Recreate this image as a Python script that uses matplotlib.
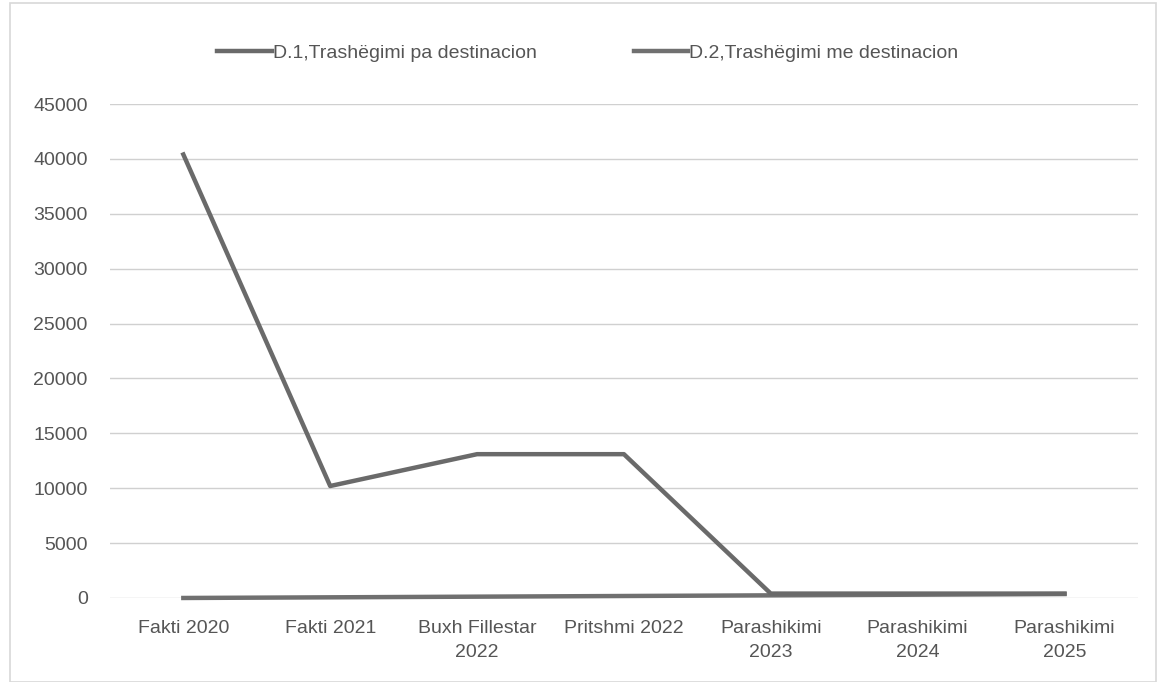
import matplotlib.pyplot as plt
import numpy as np

# Te dhenat e grafikut
kategorite = ['Fakti 2020', 'Fakti 2021', 'Buxh Fillestar\n2022', 'Pritshmi 2022',
              'Parashikimi\n2023', 'Parashikimi\n2024', 'Parashikimi\n2025']
d1_pa_destinacion = [40400, 10200, 13100, 13100, 400, 400, 400]
d2_me_destinacion = [0, 60, 120, 180, 240, 300, 360]
emrat = ['D.1,Trashëgimi pa destinacion', 'D.2,Trashëgimi me destinacion']
yticks = list(range(0, 45001, 5000))

plt.rcParams['font.family'] = ['Liberation Sans', 'DejaVu Sans']

fig = plt.figure(figsize=(11.57, 6.82), dpi=100)
ax = fig.add_axes([0.095, 0.1232, 0.8885, 0.7243])

x = np.arange(len(kategorite))
ax.plot(x, d2_me_destinacion, color='#707070', lw=3.2, label=emrat[1], zorder=3, clip_on=False)
ax.plot(x, d1_pa_destinacion, color='#6a6a6a', lw=3.2, label=emrat[0], zorder=4, clip_on=False)

ax.set_xlim(-0.5, len(kategorite) - 0.5)
ax.set_ylim(0, 45000)
ax.set_yticks(yticks)
ax.set_yticklabels([str(v) for v in yticks])
ax.set_xticks(x)
ax.set_xticklabels(kategorite, linespacing=1.5)
ax.grid(axis='y', color='#d0d0d0', lw=1)
ax.set_axisbelow(True)
for s in ax.spines.values():
    s.set_visible(False)
ax.tick_params(length=0, labelsize=14, colors='#555555')
ax.tick_params(axis='y', pad=16)
ax.tick_params(axis='x', pad=16)

h, l = ax.get_legend_handles_labels()
fig.legend(h[::-1], l[::-1], loc='center', bbox_to_anchor=(0.508, 0.922), ncol=2,
           frameon=False, fontsize=14, labelcolor='#555555', handlelength=2.8,
           handletextpad=0.05, columnspacing=5)

# marco del grafico
fig.add_artist(plt.Rectangle((0.009, 0.0), 0.99, 0.995, transform=fig.transFigure,
                             fill=False, edgecolor='#d8d8d8', lw=1.2))

fig.savefig('out.png', dpi=100)
